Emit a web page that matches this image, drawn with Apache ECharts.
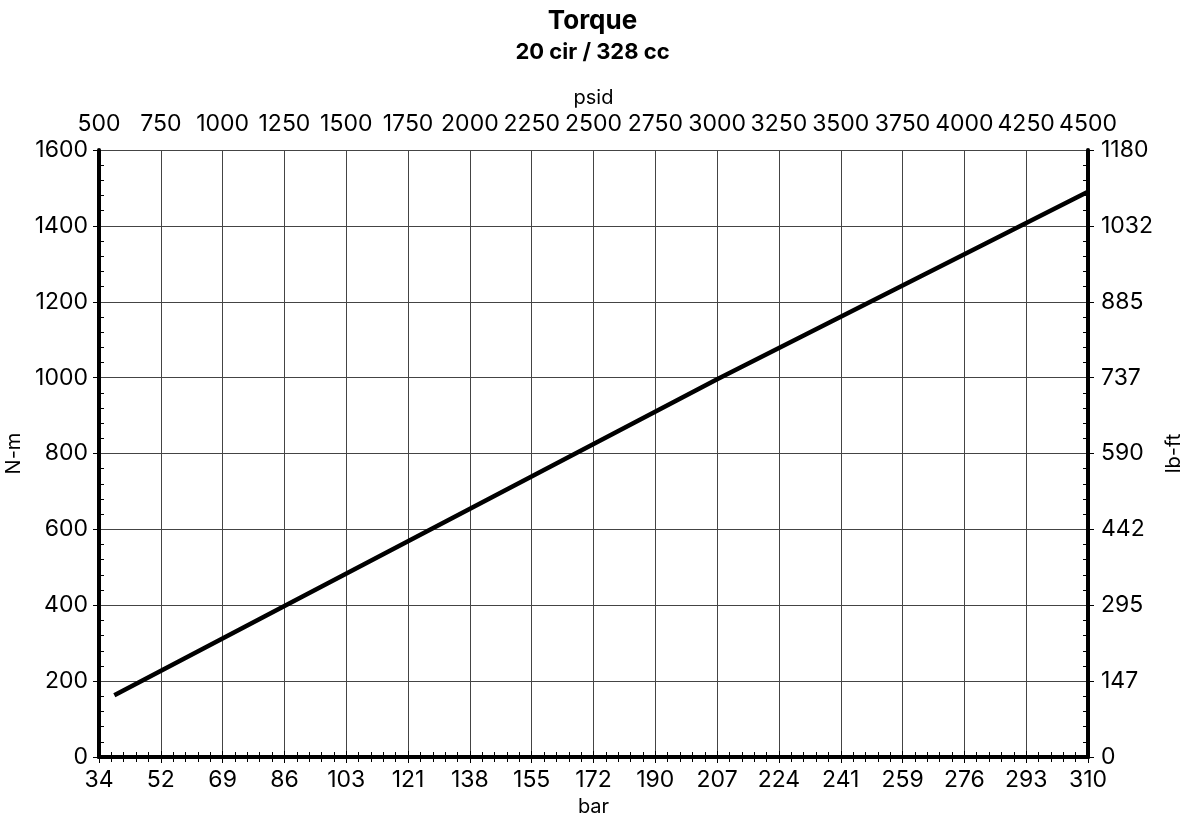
<!DOCTYPE html>
<html>
<head>
<meta charset="utf-8">
<script src="https://cdn.jsdelivr.net/npm/echarts@6/dist/echarts.min.js"></script>
<style>
  html, body { margin: 0; padding: 0; background: #fff; }
  #chart { width: 1185px; height: 819px; }
</style>
</head>
<body>
<div id="chart"></div>
<script>
// psid on the top axis, bar shown as labels on the bottom axis
const BAR_LABELS = ["34", "52", "69", "86", "103", "121", "138", "155", "172",
  "190", "207", "224", "241", "259", "276", "293", "310"];
// lb-ft labels for the right axis (same ticks as N-m 0..1600)
const LBFT_LABELS = ["0", "147", "295", "442", "590", "737", "885", "1032", "1180"];

// torque curve: pressure (psid) -> torque (N-m)
const PRESSURE_PSID = [562, 1250, 3000, 4500];
const TORQUE_NM = [163, 398, 996, 1490];

const FONT = "Inter";
const AXIS_LINE = { lineStyle: { color: "#000", width: 4 } };
const LABEL = { color: "#000", fontSize: 23, fontFamily: FONT };
const NAME = { color: "#000", fontSize: 20, fontFamily: FONT };
const GRID_RECT = { left: 99, right: 97, top: 150, bottom: 62 };

const P_MIN = 500, P_MAX = 4500, P_STEP = 250;
const T_MIN = 0, T_MAX = 1600, T_STEP = 200;

function majorX(position, extra) {
  return Object.assign({
    type: "value", gridIndex: 0, position,
    min: P_MIN, max: P_MAX, interval: P_STEP,
    axisLine: AXIS_LINE,
    axisTick: { show: true, inside: false, length: 6, lineStyle: { color: "#000", width: 1 } },
    minorTick: { show: false },
    splitLine: { show: false },
  }, extra);
}
function majorY(position, extra) {
  return Object.assign({
    type: "value", gridIndex: 0, position,
    min: T_MIN, max: T_MAX, interval: T_STEP,
    axisLine: AXIS_LINE,
    axisTick: { show: true, inside: false, length: 6, lineStyle: { color: "#000", width: 1 } },
    minorTick: { show: false },
    splitLine: { show: false },
  }, extra);
}
// second, invisible grid carries the inward minor ticks
function minorAxis(position, min, max, step) {
  return {
    type: "value", gridIndex: 1, position,
    min, max, interval: step,
    axisLine: { show: false },
    axisLabel: { show: false },
    axisTick: { show: false, inside: true },
    minorTick: { show: true, splitNumber: 5, length: 5, lineStyle: { color: "#000", width: 1 } },
    splitLine: { show: false },
  };
}

const chart = echarts.init(document.getElementById("chart"), null, { renderer: "canvas" });
chart.setOption({
  animation: false,
  backgroundColor: "#fff",
  title: {
    text: "Torque",
    subtext: "20 cir / 328 cc",
    left: "center",
    top: 3,
    itemGap: 7,
    textStyle: { color: "#000", fontSize: 26, fontWeight: "bold", fontFamily: FONT },
    subtextStyle: { color: "#000", fontSize: 22, fontWeight: "bold", fontFamily: FONT },
  },
  grid: [
    Object.assign({ containLabel: false, outerBoundsMode: "none" }, GRID_RECT),
    Object.assign({ containLabel: false, outerBoundsMode: "none" }, GRID_RECT),
  ],
  xAxis: [
    majorX("bottom", {
      name: "bar", nameLocation: "middle", nameGap: 38, nameTextStyle: NAME,
      axisLabel: Object.assign({ margin: 12, formatter: (v) => BAR_LABELS[Math.round((v - P_MIN) / P_STEP)] }, LABEL),
      splitLine: { show: true, lineStyle: { color: "#444", width: 1 } },
    }),
    majorX("top", {
      name: "psid", nameLocation: "middle", nameGap: 42, nameTextStyle: NAME,
      axisLabel: Object.assign({ margin: 14, formatter: (v) => String(v) }, LABEL),
    }),
    minorAxis("bottom", P_MIN, P_MAX, P_STEP),
    minorAxis("top", P_MIN, P_MAX, P_STEP),
  ],
  yAxis: [
    majorY("left", {
      name: "N-m", nameLocation: "middle", nameGap: 74, nameRotate: 90, nameTextStyle: NAME,
      axisLabel: Object.assign({ margin: 11, formatter: (v) => String(v) }, LABEL),
      splitLine: { show: true, lineStyle: { color: "#444", width: 1 } },
    }),
    majorY("right", {
      name: "lb-ft", nameLocation: "middle", nameGap: 72, nameRotate: 90, nameTextStyle: NAME,
      axisLabel: Object.assign({ margin: 13, formatter: (v) => LBFT_LABELS[Math.round((v - T_MIN) / T_STEP)] }, LABEL),
    }),
    minorAxis("left", T_MIN, T_MAX, T_STEP),
    minorAxis("right", T_MIN, T_MAX, T_STEP),
  ],
  series: [
    {
      type: "line",
      xAxisIndex: 0,
      yAxisIndex: 0,
      data: PRESSURE_PSID.map((p, i) => [p, TORQUE_NM[i]]),
      showSymbol: false,
      silent: true,
      lineStyle: { color: "#000", width: 4.5 },
    },
  ],
});
</script>
</body>
</html>
